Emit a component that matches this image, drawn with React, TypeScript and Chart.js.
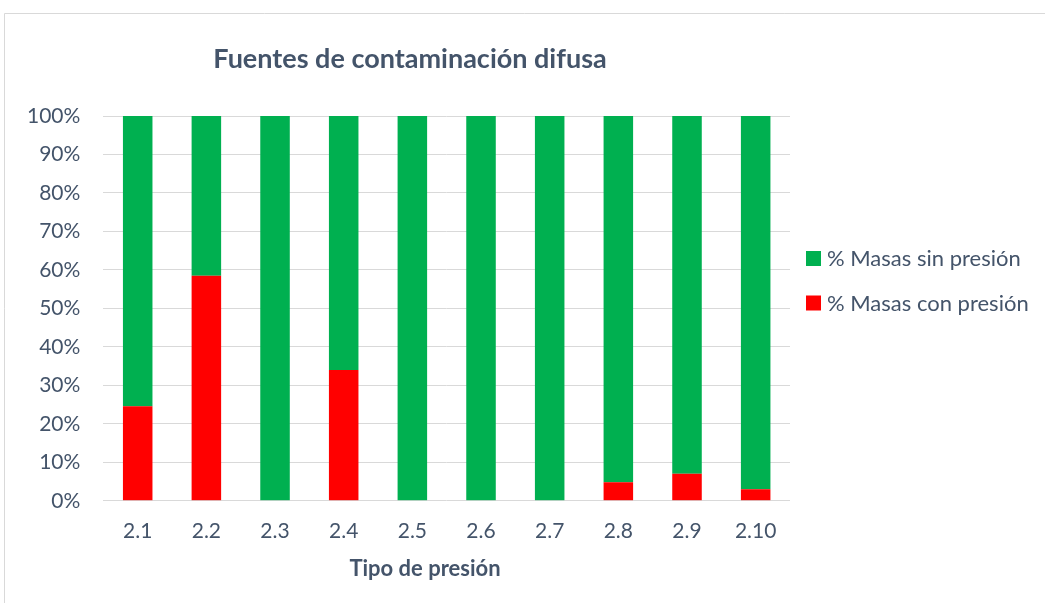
import React, { useEffect, useRef } from "react";
import { Chart, registerables } from "chart.js";

Chart.register(...registerables);

const categories = ["2.1", "2.2", "2.3", "2.4", "2.5", "2.6", "2.7", "2.8", "2.9", "2.10"];
const conPresion = [24.6, 58.5, 0, 34.0, 0, 0, 0, 4.8, 7.0, 3.0];
const sinPresion = [75.4, 41.5, 100, 66.0, 100, 100, 100, 95.2, 93.0, 97.0];
const yTicks = [0, 10, 20, 30, 40, 50, 60, 70, 80, 90, 100];

const TITLE = "Fuentes de contaminación difusa";
const X_TITLE = "Tipo de presión";
const TEXT = "#44546A";
const FONT = "Lato";

const decorPlugin = {
  id: "decor",
  beforeDraw(chart: any) {
    const ctx = chart.ctx;
    ctx.save();
    ctx.fillStyle = "#ffffff";
    ctx.fillRect(0, 0, chart.width, chart.height);
    ctx.strokeStyle = "#D9D9D9";
    ctx.lineWidth = 1;
    ctx.beginPath();
    ctx.moveTo(4.5, chart.height);
    ctx.lineTo(4.5, 13.5);
    ctx.lineTo(chart.width, 13.5);
    ctx.stroke();
    ctx.restore();
  },
  afterDraw(chart: any) {
    const ctx = chart.ctx;
    const area = chart.chartArea;
    ctx.save();
    ctx.fillStyle = TEXT;
    ctx.font = `bold 27px ${FONT}`;
    ctx.textAlign = "center";
    ctx.textBaseline = "middle";
    ctx.fillText(TITLE, 410, 59);
    ctx.font = `bold 22px ${FONT}`;
    ctx.fillText(X_TITLE, 425, 569);
    const ds = chart.data.datasets.slice().reverse();
    ctx.font = `22px ${FONT}`;
    ctx.textAlign = "left";
    ds.forEach((d: any, i: number) => {
      const cy = 258 + i * 44.5;
      ctx.fillStyle = d.backgroundColor;
      ctx.fillRect(area.right + 16, cy - 7, 15, 15);
      ctx.fillStyle = TEXT;
      ctx.fillText(d.label, area.right + 37, cy + 1);
    });
    ctx.restore();
  },
};

export default function App() {
  const ref = useRef<HTMLCanvasElement | null>(null);
  useEffect(() => {
    document.body.style.margin = "0";
    const chart = new Chart(ref.current as HTMLCanvasElement, {
      type: "bar",
      data: {
        labels: categories,
        datasets: [
          {
            label: "% Masas con presión",
            data: conPresion,
            backgroundColor: "#FF0000",
            barPercentage: 0.43,
            categoryPercentage: 1,
          },
          {
            label: "% Masas sin presión",
            data: sinPresion,
            backgroundColor: "#00B050",
            barPercentage: 0.43,
            categoryPercentage: 1,
          },
        ],
      },
      options: {
        animation: false,
        responsive: false,
        layout: { padding: { left: 4, right: 255, top: 116, bottom: 41 } },
        plugins: {
          legend: { display: false },
          title: { display: false },
          tooltip: { enabled: false },
        },
        scales: {
          x: {
            stacked: true,
            grid: { display: false, drawTicks: false },
            border: { display: false },
            ticks: { color: TEXT, font: { family: FONT, size: 21 }, padding: 18 },
          },
          y: {
            stacked: true,
            min: 0,
            max: 100,
            afterBuildTicks: (axis: any) => {
              axis.ticks = yTicks.map((v) => ({ value: v }));
            },
            grid: { color: "#D9D9D9", lineWidth: 1, drawTicks: false },
            border: { display: false },
            ticks: {
              color: TEXT,
              font: { family: FONT, size: 21 },
              padding: 23,
              callback: (v: any) => `${v}%`,
            },
          },
        },
      },
      plugins: [decorPlugin],
    });
    return () => chart.destroy();
  }, []);
  return <canvas ref={ref} width={1045} height={603} style={{ display: "block" }} />;
}
